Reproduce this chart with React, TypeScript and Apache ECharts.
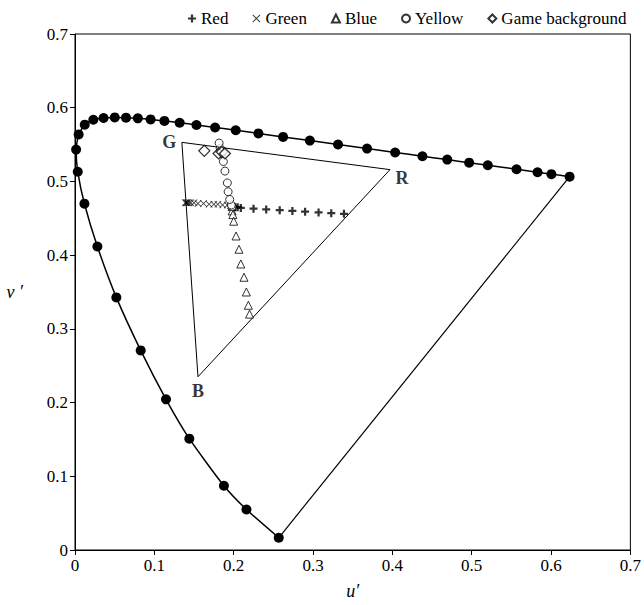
import React, { useEffect, useRef } from "react";
import * as echarts from "echarts";

// Spectral locus (u', v') dots
const locusU = [0.2568, 0.2161, 0.1877, 0.1441, 0.1147, 0.0828, 0.0521, 0.0282, 0.0119, 0.0035, 0.0014, 0.0046, 0.0123, 0.0231, 0.036, 0.0501, 0.0643, 0.0792, 0.0953, 0.1127, 0.1319, 0.1531, 0.1766, 0.2026, 0.2312, 0.2623, 0.296, 0.3315, 0.3681, 0.4035, 0.4379, 0.4692, 0.4968, 0.5203, 0.5565, 0.583, 0.6005, 0.6234];
const locusV = [0.0166, 0.0549, 0.0871, 0.151, 0.2044, 0.2708, 0.3427, 0.4117, 0.4698, 0.5131, 0.5432, 0.5638, 0.577, 0.5837, 0.5861, 0.5868, 0.5865, 0.5856, 0.5841, 0.5821, 0.5796, 0.5766, 0.5732, 0.5694, 0.5651, 0.5604, 0.5554, 0.5501, 0.5446, 0.5393, 0.5342, 0.5296, 0.5254, 0.5219, 0.5165, 0.5125, 0.5099, 0.5065];

// Display gamut triangle vertices
const gamutNames = ["G", "R", "B"];
const gamutU = [0.1347, 0.397, 0.155];
const gamutV = [0.553, 0.516, 0.235];

const redU = [0.198, 0.2, 0.202, 0.205, 0.209, 0.225, 0.241, 0.258, 0.274, 0.29, 0.307, 0.323, 0.339];
const redV = [0.466, 0.466, 0.465, 0.465, 0.464, 0.463, 0.462, 0.461, 0.46, 0.459, 0.458, 0.457, 0.456];
const greenU = [0.198, 0.196, 0.192, 0.186, 0.18, 0.175, 0.169, 0.162, 0.155, 0.15, 0.146, 0.144, 0.142, 0.141, 0.14, 0.139];
const greenV = [0.466, 0.467, 0.468, 0.468, 0.469, 0.469, 0.469, 0.47, 0.47, 0.471, 0.471, 0.471, 0.471, 0.471, 0.471, 0.471];
const blueU = [0.198, 0.198, 0.199, 0.2, 0.203, 0.2067, 0.209, 0.213, 0.216, 0.2185, 0.22];
const blueV = [0.466, 0.46, 0.455, 0.446, 0.426, 0.408, 0.388, 0.37, 0.35, 0.332, 0.32];
const yellowU = [0.198, 0.197, 0.195, 0.193, 0.192, 0.189, 0.187, 0.185, 0.183, 0.1816];
const yellowV = [0.466, 0.468, 0.4755, 0.486, 0.498, 0.514, 0.527, 0.538, 0.545, 0.552];
const bgU = [0.163, 0.181, 0.185, 0.189];
const bgV = [0.5415, 0.538, 0.54, 0.538];

const pairs = (u: number[], v: number[]) => u.map((x, i) => [x, v[i]]);

const FONT = "Liberation Serif, Times New Roman, serif";
const PLUS = "path://M3.6,0H6.4V3.6H10V6.4H6.4V10H3.6V6.4H0V3.6H3.6Z";
const CROSS = "path://M0,0.8L0.8,0L5,4.2L9.2,0L10,0.8L5.8,5L10,9.2L9.2,10L5,5.8L0.8,10L0,9.2L4.2,5Z";

export default function App() {
  const ref = useRef<HTMLDivElement>(null);
  useEffect(() => {
    if (!ref.current) return;
    const chart = echarts.init(ref.current, null, { renderer: "svg" });
    const hollow = { color: "#fff", borderColor: "#000", borderWidth: 1 };
    const locus = pairs(locusU, locusV);
    const tri = pairs(gamutU, gamutV);
    chart.setOption({
      animation: false,
      backgroundColor: "#fff",
      textStyle: { fontFamily: FONT, color: "#000" },
      grid: { left: 75, top: 34, width: 557, height: 520, show: true, borderColor: "#000", borderWidth: 1, backgroundColor: "transparent" },
      legend: {
        top: 10,
        left: 188,
        padding: 0,
        itemGap: 24,
        itemWidth: 8,
        itemHeight: 8,
        textStyle: { fontFamily: FONT, fontSize: 17, color: "#000" },
        data: ["Red", "Green", "Blue", "Yellow", "Game background"],
      },
      xAxis: {
        type: "value",
        min: 0,
        max: 0.7,
        interval: 0.1,
        name: "u\u2032",
        nameLocation: "middle",
        nameGap: 32,
        nameTextStyle: { fontFamily: FONT, fontSize: 18, fontStyle: "italic", color: "#000" },
        axisLine: { show: true, lineStyle: { color: "#000", width: 1 } },
        axisTick: { show: true, inside: false, length: 5, lineStyle: { color: "#000" } },
        axisLabel: { fontFamily: FONT, fontSize: 17, color: "#000", margin: 7 },
        splitLine: { show: false },
      },
      yAxis: {
        type: "value",
        min: 0,
        max: 0.7,
        interval: 0.1,
        name: "v \u2032",
        nameLocation: "middle",
        nameRotate: 0,
        nameGap: 52,
        nameTextStyle: { fontFamily: FONT, fontSize: 18, fontStyle: "italic", color: "#000" },
        axisLine: { show: true, lineStyle: { color: "#000", width: 1 } },
        axisTick: { show: true, inside: false, length: 5, lineStyle: { color: "#000" } },
        axisLabel: { fontFamily: FONT, fontSize: 17, color: "#000", margin: 7 },
        splitLine: { show: false },
      },
      series: [
        {
          name: "locus",
          type: "line",
          data: locus,
          smooth: 0.2,
          symbol: "circle",
          symbolSize: 10,
          itemStyle: { color: "#000" },
          lineStyle: { color: "#000", width: 1.5 },
          z: 3,
        },
        {
          name: "purple",
          type: "line",
          data: [locus[locus.length - 1], locus[0]],
          symbol: "none",
          lineStyle: { color: "#000", width: 1.2 },
          z: 2,
        },
        {
          name: "gamut",
          type: "line",
          data: [...tri, tri[0]],
          symbol: "none",
          lineStyle: { color: "#000", width: 1 },
          z: 2,
        },
        {
          name: "gamutLabels",
          type: "scatter",
          symbolSize: 1,
          itemStyle: { color: "transparent" },
          data: tri.map((p, i) => ({
            value: p,
            label: {
              show: true,
              formatter: gamutNames[i],
              position: i === 0 ? "left" : i === 1 ? [6, 0] : "bottom",
              distance: 5,
              fontFamily: FONT,
              fontWeight: "bold",
              fontSize: 18,
              color: "#000",
            },
          })),
          z: 4,
        },
        {
          name: "Red",
          type: "scatter",
          data: pairs(redU, redV),
          symbol: PLUS,
          symbolSize: 8,
          itemStyle: { color: "#000" },
          z: 6,
        },
        {
          name: "Green",
          type: "scatter",
          data: pairs(greenU, greenV),
          symbol: CROSS,
          symbolSize: 7,
          itemStyle: { color: "#000" },
          z: 6,
        },
        {
          name: "Blue",
          type: "scatter",
          data: pairs(blueU, blueV),
          symbol: "triangle",
          symbolSize: 8,
          itemStyle: hollow,
          z: 6,
        },
        {
          name: "Yellow",
          type: "scatter",
          data: pairs(yellowU, yellowV),
          symbol: "circle",
          symbolSize: 8,
          itemStyle: hollow,
          z: 6,
        },
        {
          name: "Game background",
          type: "scatter",
          data: pairs(bgU, bgV),
          symbol: "diamond",
          symbolSize: 11,
          itemStyle: { ...hollow, borderWidth: 1.3 },
          z: 6,
        },
      ],
    });
    return () => chart.dispose();
  }, []);
  return <div ref={ref} style={{ position: "fixed", left: 0, top: 0, width: 644, height: 605 }} />;
}
